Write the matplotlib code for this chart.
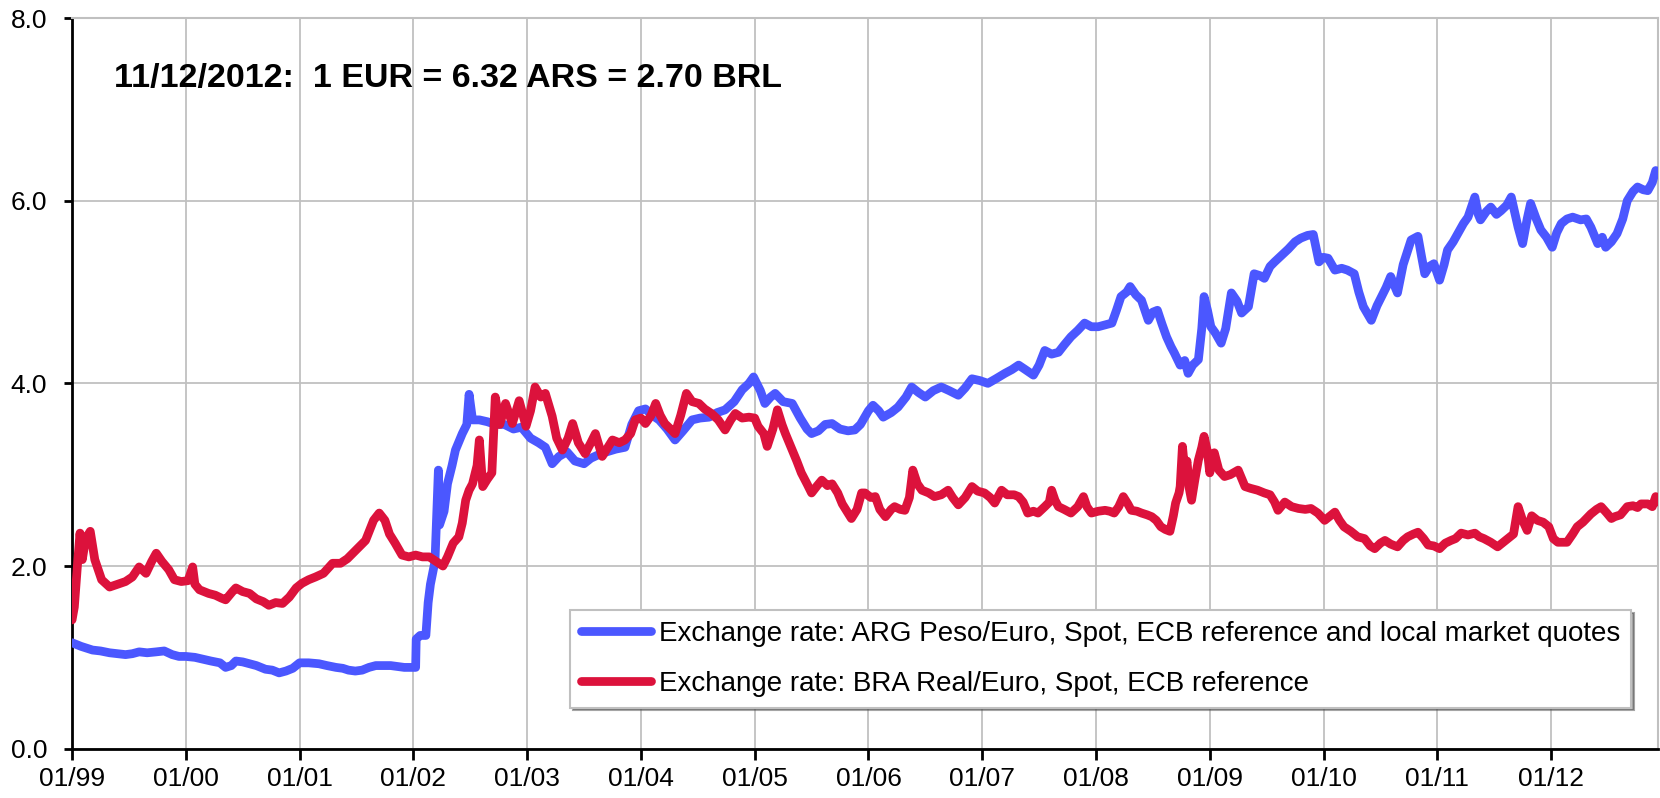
import numpy as np
import matplotlib.pyplot as plt

plt.rcParams['font.family'] = ['Liberation Sans', 'DejaVu Sans']

# time as decimal years, values in currency units per 1 EUR
ars_t = [1999.00, 1999.08, 1999.18, 1999.25, 1999.33, 1999.40, 1999.47, 1999.53, 1999.59, 1999.66,
         1999.74, 1999.81, 1999.88, 1999.94, 2000.00, 2000.08, 2000.15, 2000.22, 2000.30, 2000.35,
         2000.40, 2000.44, 2000.50, 2000.56, 2000.62, 2000.70, 2000.76, 2000.82, 2000.88, 2000.94,
         2001.00, 2001.08, 2001.17, 2001.24, 2001.32, 2001.38, 2001.43, 2001.49, 2001.55, 2001.61,
         2001.67, 2001.73, 2001.80, 2001.86, 2001.92, 2001.99, 2002.02, 2002.025, 2002.06, 2002.11,
         2002.13, 2002.15, 2002.19, 2002.22, 2002.23, 2002.27, 2002.30, 2002.34, 2002.37, 2002.43,
         2002.47, 2002.49, 2002.52, 2002.58, 2002.65, 2002.72, 2002.80, 2002.88, 2002.95, 2003.03,
         2003.10, 2003.16, 2003.22, 2003.28, 2003.35, 2003.42, 2003.50, 2003.56, 2003.63, 2003.70,
         2003.78, 2003.86, 2003.92, 2003.98, 2004.04, 2004.10, 2004.16, 2004.23, 2004.30, 2004.37,
         2004.45, 2004.52, 2004.60, 2004.67, 2004.74, 2004.82, 2004.89, 2004.95, 2004.99, 2005.05,
         2005.09, 2005.14, 2005.18, 2005.25, 2005.33, 2005.40, 2005.46, 2005.50, 2005.56, 2005.62,
         2005.68, 2005.75, 2005.82, 2005.88, 2005.93, 2006.00, 2006.04, 2006.09, 2006.13, 2006.20,
         2006.26, 2006.33, 2006.38, 2006.44, 2006.50, 2006.57, 2006.64, 2006.71, 2006.79, 2006.85,
         2006.91, 2006.98, 2007.05, 2007.12, 2007.20, 2007.26, 2007.32, 2007.38, 2007.45, 2007.50,
         2007.55, 2007.61, 2007.67, 2007.72, 2007.78, 2007.84, 2007.90, 2007.96, 2008.02, 2008.08,
         2008.14, 2008.18, 2008.22, 2008.27, 2008.30, 2008.35, 2008.40, 2008.46, 2008.50, 2008.54,
         2008.58, 2008.62, 2008.66, 2008.69, 2008.74, 2008.78, 2008.81, 2008.85, 2008.90, 2008.93,
         2008.95, 2008.98, 2009.01, 2009.05, 2009.10, 2009.14, 2009.19, 2009.24, 2009.28, 2009.34,
         2009.39, 2009.44, 2009.48, 2009.53, 2009.57, 2009.63, 2009.69, 2009.75, 2009.80, 2009.86,
         2009.91, 2009.96, 2010.00, 2010.04, 2010.10, 2010.16, 2010.21, 2010.27, 2010.31, 2010.35,
         2010.42, 2010.47, 2010.51, 2010.55, 2010.59, 2010.65, 2010.70, 2010.77, 2010.83, 2010.86,
         2010.89, 2010.93, 2010.97, 2011.02, 2011.06, 2011.09, 2011.14, 2011.18, 2011.23, 2011.27,
         2011.33, 2011.36, 2011.38, 2011.43, 2011.47, 2011.52, 2011.56, 2011.61, 2011.65, 2011.71,
         2011.75, 2011.79, 2011.82, 2011.87, 2011.91, 2011.96, 2012.01, 2012.05, 2012.09, 2012.14,
         2012.19, 2012.26, 2012.31, 2012.35, 2012.41, 2012.45, 2012.48, 2012.53, 2012.58, 2012.63,
         2012.67, 2012.72, 2012.76, 2012.81, 2012.85, 2012.89, 2012.92, 2012.94]
ars_v = [1.16, 1.12, 1.08, 1.07, 1.05, 1.04, 1.03, 1.04, 1.06, 1.05,
         1.06, 1.07, 1.03, 1.01, 1.01, 1.00, 0.98, 0.96, 0.94, 0.89,
         0.91, 0.96, 0.95, 0.93, 0.91, 0.87, 0.86, 0.83, 0.85, 0.88,
         0.94, 0.94, 0.93, 0.91, 0.89, 0.88, 0.86, 0.85, 0.86, 0.89,
         0.91, 0.91, 0.91, 0.90, 0.89, 0.89, 0.89, 1.20, 1.24, 1.24,
         1.60, 1.80, 2.05, 3.05, 2.45, 2.60, 2.90, 3.10, 3.27, 3.45,
         3.55, 3.88, 3.60, 3.60, 3.58, 3.55, 3.55, 3.50, 3.52, 3.40,
         3.35, 3.30, 3.12, 3.20, 3.25, 3.15, 3.12, 3.18, 3.22, 3.25,
         3.28, 3.30, 3.55, 3.70, 3.72, 3.65, 3.60, 3.50, 3.38, 3.48,
         3.60, 3.62, 3.63, 3.68, 3.71, 3.80, 3.93, 4.00, 4.07, 3.92,
         3.78, 3.85, 3.89, 3.80, 3.78, 3.62, 3.50, 3.45, 3.48, 3.55,
         3.56, 3.50, 3.48, 3.49, 3.55, 3.70, 3.76, 3.70, 3.63, 3.68,
         3.74, 3.85, 3.96, 3.90, 3.85, 3.92, 3.96, 3.92, 3.87, 3.95,
         4.05, 4.03, 4.00, 4.05, 4.11, 4.15, 4.20, 4.15, 4.09, 4.20,
         4.36, 4.32, 4.34, 4.42, 4.51, 4.58, 4.66, 4.62, 4.62, 4.64,
         4.66, 4.80, 4.95, 5.00, 5.06, 4.97, 4.91, 4.69, 4.78, 4.80,
         4.65, 4.51, 4.40, 4.33, 4.20, 4.25, 4.11, 4.20, 4.26, 4.60,
         4.95, 4.80, 4.62, 4.55, 4.44, 4.60, 4.99, 4.90, 4.77, 4.84,
         5.20, 5.18, 5.15, 5.28, 5.33, 5.40, 5.47, 5.55, 5.59, 5.62,
         5.63, 5.33, 5.38, 5.37, 5.24, 5.26, 5.24, 5.20, 5.00, 4.84,
         4.69, 4.85, 4.95, 5.05, 5.17, 4.99, 5.30, 5.57, 5.61, 5.40,
         5.20, 5.28, 5.31, 5.13, 5.30, 5.46, 5.55, 5.64, 5.75, 5.82,
         6.04, 5.85, 5.79, 5.88, 5.93, 5.85, 5.89, 5.95, 6.04, 5.71,
         5.53, 5.80, 5.97, 5.80, 5.68, 5.60, 5.49, 5.65, 5.75, 5.80,
         5.82, 5.79, 5.80, 5.71, 5.53, 5.60, 5.49, 5.55, 5.64, 5.80,
         6.00, 6.10, 6.15, 6.12, 6.11, 6.20, 6.33, 6.32]

brl_t = [1999.00, 1999.02, 1999.05, 1999.07, 1999.09, 1999.12, 1999.16, 1999.20, 1999.26, 1999.33,
         1999.40, 1999.47, 1999.53, 1999.59, 1999.65, 1999.70, 1999.74, 1999.79, 1999.85, 1999.90,
         1999.96, 2000.02, 2000.06, 2000.08, 2000.12, 2000.20, 2000.26, 2000.31, 2000.35, 2000.41,
         2000.44, 2000.50, 2000.56, 2000.62, 2000.68, 2000.73, 2000.79, 2000.85, 2000.91, 2000.97,
         2001.02, 2001.08, 2001.14, 2001.21, 2001.29, 2001.36, 2001.42, 2001.50, 2001.58, 2001.65,
         2001.70, 2001.75, 2001.79, 2001.84, 2001.90, 2001.96, 2002.02, 2002.08, 2002.14, 2002.20,
         2002.26, 2002.30, 2002.35, 2002.40, 2002.43, 2002.46, 2002.49, 2002.52, 2002.56, 2002.58,
         2002.61, 2002.65, 2002.69, 2002.72, 2002.76, 2002.81, 2002.87, 2002.93, 2002.99, 2003.03,
         2003.07, 2003.12, 2003.16, 2003.22, 2003.26, 2003.31, 2003.36, 2003.40, 2003.45, 2003.51,
         2003.56, 2003.60, 2003.66, 2003.71, 2003.75, 2003.81, 2003.86, 2003.91, 2003.95, 2004.00,
         2004.04, 2004.09, 2004.13, 2004.17, 2004.21, 2004.26, 2004.30, 2004.35, 2004.40, 2004.45,
         2004.51, 2004.56, 2004.62, 2004.68, 2004.74, 2004.79, 2004.83, 2004.89, 2004.95, 2005.00,
         2005.03, 2005.08, 2005.11, 2005.16, 2005.20, 2005.24, 2005.27, 2005.33, 2005.37, 2005.41,
         2005.46, 2005.50, 2005.55, 2005.59, 2005.64, 2005.68, 2005.73, 2005.77, 2005.81, 2005.85,
         2005.90, 2005.94, 2005.97, 2006.02, 2006.06, 2006.10, 2006.15, 2006.20, 2006.23, 2006.28,
         2006.32, 2006.36, 2006.39, 2006.43, 2006.47, 2006.53, 2006.58, 2006.64, 2006.70, 2006.74,
         2006.79, 2006.85, 2006.91, 2006.96, 2007.02, 2007.07, 2007.11, 2007.17, 2007.22, 2007.28,
         2007.32, 2007.36, 2007.40, 2007.45, 2007.49, 2007.55, 2007.59, 2007.61, 2007.64, 2007.67,
         2007.72, 2007.78, 2007.84, 2007.89, 2007.92, 2007.96, 2008.02, 2008.08, 2008.12, 2008.16,
         2008.20, 2008.24, 2008.28, 2008.31, 2008.36, 2008.40, 2008.45, 2008.49, 2008.53, 2008.57,
         2008.61, 2008.65, 2008.68, 2008.70, 2008.73, 2008.74, 2008.76, 2008.78, 2008.80, 2008.82,
         2008.84, 2008.87, 2008.90, 2008.93, 2008.95, 2008.98, 2009.00, 2009.04, 2009.08, 2009.13,
         2009.18, 2009.25, 2009.31, 2009.36, 2009.42, 2009.48, 2009.53, 2009.57, 2009.60, 2009.66,
         2009.72, 2009.78, 2009.84, 2009.89, 2009.95, 2010.01, 2010.06, 2010.10, 2010.14, 2010.18,
         2010.24, 2010.30, 2010.36, 2010.41, 2010.45, 2010.50, 2010.54, 2010.59, 2010.65, 2010.70,
         2010.74, 2010.79, 2010.83, 2010.88, 2010.92, 2010.97, 2011.02, 2011.07, 2011.12, 2011.16,
         2011.21, 2011.27, 2011.33, 2011.37, 2011.41, 2011.47, 2011.53, 2011.58, 2011.62, 2011.67,
         2011.71, 2011.75, 2011.79, 2011.83, 2011.88, 2011.93, 2011.98, 2012.02, 2012.06, 2012.10,
         2012.14, 2012.19, 2012.23, 2012.28, 2012.35, 2012.40, 2012.44, 2012.49, 2012.53, 2012.56,
         2012.61, 2012.67, 2012.72, 2012.76, 2012.79, 2012.85, 2012.89, 2012.92, 2012.94]
brl_v = [1.41, 1.55, 2.05, 2.36, 2.07, 2.30, 2.38, 2.07, 1.85, 1.77,
         1.80, 1.83, 1.88, 1.99, 1.92, 2.05, 2.14, 2.05, 1.96, 1.85,
         1.83, 1.84, 1.99, 1.80, 1.74, 1.70, 1.68, 1.65, 1.63, 1.72,
         1.76, 1.72, 1.70, 1.64, 1.61, 1.57, 1.60, 1.59, 1.66, 1.76,
         1.81, 1.85, 1.88, 1.92, 2.03, 2.03, 2.08, 2.18, 2.28, 2.50,
         2.58, 2.50, 2.35, 2.25, 2.12, 2.10, 2.12, 2.10, 2.10, 2.05,
         2.00, 2.10, 2.25, 2.32, 2.47, 2.72, 2.83, 2.90, 3.10, 3.38,
         2.87, 2.95, 3.02, 3.85, 3.55, 3.78, 3.56, 3.81, 3.53, 3.70,
         3.96, 3.85, 3.89, 3.64, 3.40, 3.27, 3.40, 3.56, 3.35, 3.23,
         3.35, 3.45, 3.20, 3.30, 3.38, 3.35, 3.38, 3.45, 3.60, 3.62,
         3.56, 3.65, 3.78, 3.65, 3.56, 3.50, 3.45, 3.65, 3.89, 3.80,
         3.78, 3.72, 3.67, 3.60, 3.49, 3.60, 3.67, 3.62, 3.63, 3.62,
         3.53, 3.45, 3.31, 3.50, 3.71, 3.55, 3.45, 3.27, 3.15, 3.02,
         2.90, 2.80, 2.88, 2.94, 2.88, 2.90, 2.80, 2.68, 2.60, 2.52,
         2.62, 2.80, 2.80, 2.75, 2.76, 2.62, 2.54, 2.62, 2.65, 2.62,
         2.61, 2.75, 3.05, 2.90, 2.83, 2.80, 2.76, 2.78, 2.83, 2.75,
         2.67, 2.75, 2.87, 2.82, 2.80, 2.75, 2.69, 2.83, 2.78, 2.78,
         2.76, 2.70, 2.58, 2.60, 2.58, 2.65, 2.70, 2.83, 2.72, 2.65,
         2.62, 2.58, 2.65, 2.76, 2.65, 2.58, 2.60, 2.61, 2.60, 2.58,
         2.65, 2.76, 2.68, 2.61, 2.60, 2.58, 2.56, 2.54, 2.50, 2.43,
         2.40, 2.38, 2.55, 2.69, 2.80, 2.87, 3.31, 3.05, 3.15, 2.85,
         2.72, 2.95, 3.16, 3.30, 3.42, 3.25, 3.02, 3.24, 3.05, 2.98,
         3.00, 3.05, 2.87, 2.85, 2.83, 2.80, 2.78, 2.70, 2.61, 2.70,
         2.65, 2.63, 2.62, 2.63, 2.58, 2.50, 2.55, 2.59, 2.50, 2.43,
         2.38, 2.32, 2.30, 2.22, 2.19, 2.25, 2.28, 2.24, 2.21, 2.28,
         2.32, 2.35, 2.37, 2.30, 2.23, 2.22, 2.19, 2.25, 2.28, 2.30,
         2.36, 2.34, 2.36, 2.32, 2.30, 2.26, 2.21, 2.26, 2.30, 2.35,
         2.65, 2.50, 2.39, 2.55, 2.50, 2.48, 2.43, 2.30, 2.26, 2.26,
         2.26, 2.35, 2.43, 2.48, 2.57, 2.62, 2.65, 2.58, 2.52, 2.54,
         2.56, 2.65, 2.66, 2.64, 2.68, 2.68, 2.65, 2.76, 2.70]

years = list(range(1999, 2013))
year_labels = ['01/%02d' % (y % 100) for y in years]
ars_label = 'Exchange rate: ARG Peso/Euro, Spot, ECB reference and local market quotes'
brl_label = 'Exchange rate: BRA Real/Euro, Spot, ECB reference'
note = '11/12/2012:  1 EUR = 6.32 ARS = 2.70 BRL'

fig = plt.figure(figsize=(16.6, 7.98), dpi=100)
ax = fig.add_axes([0.0434, 0.0618, 0.9554, 0.9156])

ax.plot(ars_t, ars_v, color='#4b57ff', lw=6.3, solid_capstyle='round',
        solid_joinstyle='round', label=ars_label, zorder=3)
ax.plot(brl_t, brl_v, color='#dc123c', lw=6.3, solid_capstyle='round',
        solid_joinstyle='round', label=brl_label, zorder=4)

ax.set_xlim(1999.0, 2012.94)
ax.set_ylim(0, 8)
ax.set_xticks(years)
ax.set_xticklabels(year_labels)
ax.set_yticks([0, 2, 4, 6, 8])
ax.set_yticklabels(['%.1f' % v for v in [0, 2, 4, 6, 8]])

ax.grid(True, color='#c0c0c0', lw=1.3)
ax.set_axisbelow(True)
for s in ['top', 'right']:
    ax.spines[s].set_color('#c0c0c0')
    ax.spines[s].set_linewidth(1.5)
for s in ['left', 'bottom']:
    ax.spines[s].set_color('black')
    ax.spines[s].set_linewidth(2)
ax.tick_params(axis='both', labelsize=19, width=2, direction='out')
ax.tick_params(axis='x', length=8, pad=5)
ax.tick_params(axis='y', length=6, pad=12)

# x in axes fraction, y in data units
ax.text(0.0265, 7.34, note, fontsize=24.5, fontweight='bold', va='center', ha='left',
        transform=ax.get_yaxis_transform())

leg = ax.legend(loc='upper left', bbox_to_anchor=(0.314, 0.190), fontsize=20,
                frameon=True, fancybox=False, shadow=True, edgecolor='#c0c0c0',
                handlelength=2.5, handletextpad=0.3, labelspacing=0.85, borderpad=0.4,
                borderaxespad=0)
leg.get_frame().set_linewidth(1.5)

fig.savefig('out.png', dpi=100)
